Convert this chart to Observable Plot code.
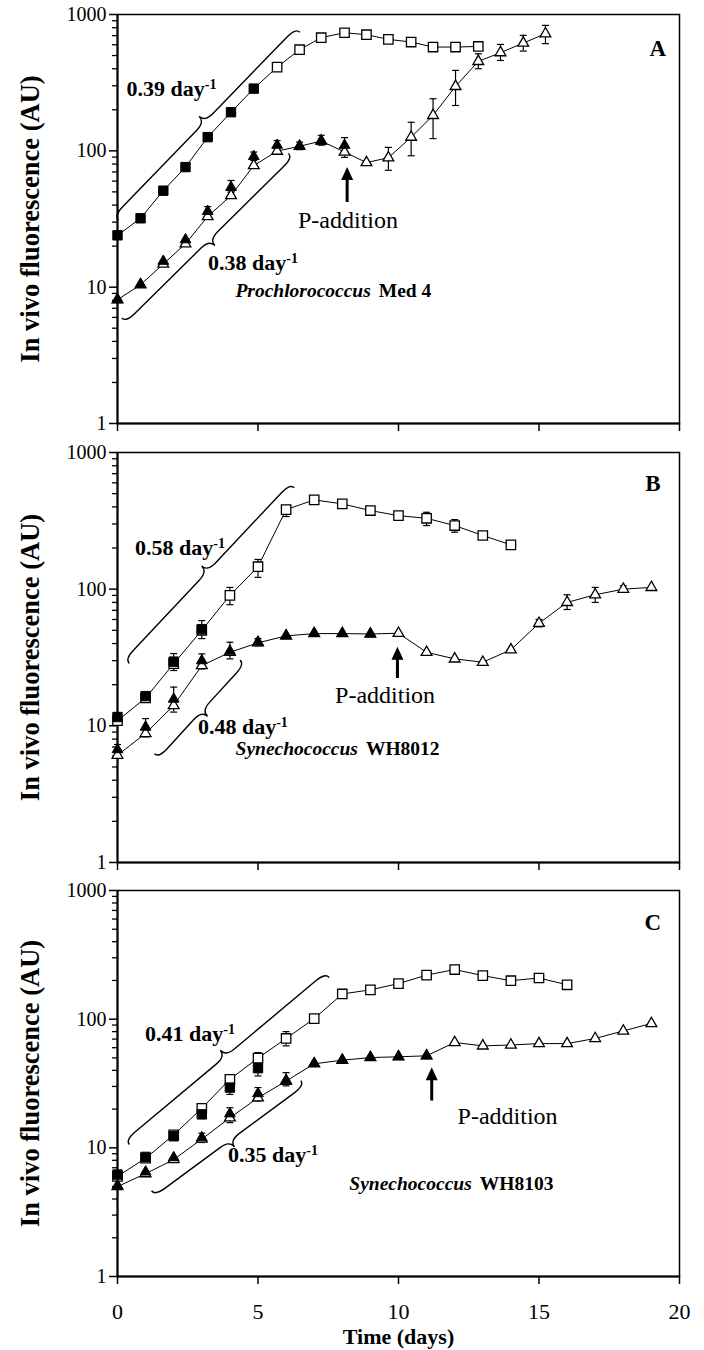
<!DOCTYPE html>
<html><head><meta charset="utf-8">
<script src="https://cdn.jsdelivr.net/npm/d3@7"></script>
<script src="https://cdn.jsdelivr.net/npm/@observablehq/plot@0.6"></script>
<style>
body{margin:0;background:#fff;}
#chart{width:704px;}
#chart svg{display:block;}
</style></head><body><div id="chart"></div>
<script>
// ---------- tick labels ----------
const xTicks = [0, 5, 10, 15, 20];
const yMajor = [1, 10, 100, 1000];
const yMinor = [2,3,4,5,6,7,8,9,20,30,40,50,60,70,80,90,200,300,400,500,600,700,800,900];
const yTitle = "In vivo fluorescence (AU)";
const xTitle = "Time (days)";
const panelLetters = ["A", "B", "C"];
const speciesItalic = ["Prochlorococcus", "Synechococcus", "Synechococcus"];
const speciesStrain = ["Med 4", "WH8012", "WH8103"];

// ---------- Panel A : Prochlorococcus Med 4 ----------
const daysA = [0,0.82,1.63,2.42,3.21,4.04,4.85,5.68,6.48,7.25,8.08,8.86,9.64,10.45,11.23,12.03,12.84,13.63,14.44,15.23];
const sqFilledA = [24,32,51,76,126,192,286];
const sqOpenA = [null,null,null,null,null,null,null,411,552,676,735,711,657,628,577,577,583];
const triFilledA = [8.1,10.5,15.5,22.3,36,54,91,110,108,118,110];
const triOpenA = [8.1,10.4,14.8,20.8,33,47,78,99.5,108,118,98,82,89,126,182,297,453,525,617,723];
const errDayA = [3.21,4.04,4.85,5.68,6.48,7.25,8.08,9.64,10.45,11.23,12.03,12.84,13.63,14.44,15.23];
const errLoA  = [33,49.8,85,104,102,110,89.5,72,92,123,215,400,460,539,611];
const errHiA  = [39,60.6,98,119,116,130,125,106,162,241,389,515,603,703,832];
const rateTextA = ["0.39", "0.38"];
const rateXA = [0.34, 3.24], rateYA = [287, 15.2];
const braceX0A = [0.05, 0.17], braceY0A = [30.9, 5.9], braceX1A = [6.51, 6.1], braceY1A = [735, 95], braceUpA = [true, false];
const arrowA = [8.19, 75.5, 41.8];      // day, tip value, tail value
const pTextA = [8.22, 30.9];
const letterA = [19.25, 564];
const speciesA = [7.7, 9.5];

// ---------- Panel B : Synechococcus WH8012 ----------
const daysB = [0,1,2,3,4,5,6,7,8,9,10,11,12,13,14,15,16,17,18,19];
const sqFilledB = [11.6,16.5,29.5,51];
const sqOpenB = [10.9,16,28.5,50,90,146,382,450,421,376,345,330,292,247,211];
const triFilledB = [6.7,9.8,15.7,30,35.2,41,45.8,47.6,47.6,47.1];
const triOpenB = [6.1,8.8,14.1,27.6,34.5,40.5,45.5,47.3,47.3,47,47.6,34.5,30.9,29.2,36,56.3,80,91,100,103];
const errDayB = [0,0,1,2,2,3,3,4,4,5,5,6,11,12,15,16,17,18];
const errLoB = [10.6,5.9,8.3,25.4,12.6,43.5,26.1,77,30.9,122,38.5,340,292,261,53,71,80,95];
const errHiB = [12.4,7.3,11.3,33.8,19.2,58.9,33.6,103,40.9,165,43.5,409,365,323,60,91,103,106];
const rateTextB = ["0.58", "0.48"];
const rateXB = [0.64, 2.88], rateYB = [200, 9.9];
const braceX0B = [0.44, 1.33], braceY0B = [28.4, 6.2], braceX1B = [6.31, 4.38], braceY1B = [547, 30], braceUpB = [true, false];
const arrowB = [9.98, 37.6, 22.2];
const pTextB = [9.54, 16.9];
const letterB = [19.07, 592];
const speciesB = [7.85, 6.8];

// ---------- Panel C : Synechococcus WH8103 ----------
const daysC = [0,1,2,3,4,5,6,7,8,9,10,11,12,13,14,15,16,17,18,19];
const sqFilledC = [6.2,8.5,12.3,18.2,29.4,41.6];
const sqOpenC = [6.0,8.3,12.6,20.3,34.1,49.8,70.8,101,157,169,189,220,243,218,199,209,185];
const triFilledC = [5.1,6.5,8.4,12,18.4,26.4,33.5,45.4,48.2,50.5,51.2,51.9];
const triOpenC = [5.0,6.3,8.1,11.7,17.1,24.5,33,45,48,50.3,51,51.9,65.9,62,63,64.6,64.6,70.8,81,92.6];
const errDayC = [3,4,4,5,5,5,6,6,7];
const errLoC = [11,26,15.7,36.2,46,23.1,62,30.3,94];
const errHiC = [13,34,20.5,47.4,55,29.4,80,38.4,108];
const rateTextC = ["0.41", "0.35"];
const rateXC = [1.0, 3.95], rateYC = [77, 8.9];
const braceX0C = [0.44, 1.23], braceY0C = [10.5, 4.6], braceX1C = [7.55, 6.54], braceY1C = [209, 33], braceUpC = [true, false];
const arrowC = [11.2, 42, 23.1];
const pTextC = [13.9, 17.7];
const letterC = [19.07, 564];
const speciesC = [11.9, 5.3];

// ---------- build ----------
const FONT = "'Liberation Serif','Times New Roman',Times,serif";
const capSymbol = {draw(ctx) { ctx.moveTo(-3.5, 0); ctx.lineTo(3.5, 0); }};

function pts(days, vals) {
  return days.map((d, i) => ({x: d, y: vals[i]})).filter(d => d.y != null);
}
function lineData(days, open, filled) {
  return days.map((d, i) => ({x: d, y: open[i] != null ? open[i] : filled[i]})).filter(d => d.y != null);
}
function bracePath(x0, y0, x1, y1, up, h, tip) {
  const dx = x1 - x0, dy = y1 - y0, L = Math.hypot(dx, dy);
  const ux = dx / L, uy = dy / L;
  let nx = -uy, ny = ux;
  if ((up && ny > 0) || (!up && ny < 0)) { nx = -nx; ny = -ny; }
  const q = Math.min(12, L / 8), m = L / 2;
  const P = (s, o) => `${(x0 + ux * s + nx * o).toFixed(2)},${(y0 + uy * s + ny * o).toFixed(2)}`;
  return `M${P(0,0)}Q${P(0,h)} ${P(q,h)}L${P(m-q,h)}Q${P(m,h)} ${P(m,tip)}Q${P(m,h)} ${P(m+q,h)}L${P(L-q,h)}Q${P(L,h)} ${P(L,0)}`;
}

function annotations(p) {
  return (index, scales) => {
    const X = scales.x, Y = scales.y;
    const g = d3.create("svg:g").attr("font-family", FONT).attr("fill", "black");
    // braces
    p.bx0.forEach((_, i) => {
      g.append("path")
        .attr("d", bracePath(X(p.bx0[i]), Y(p.by0[i]), X(p.bx1[i]), Y(p.by1[i]), p.bup[i], 6, 14))
        .attr("fill", "none").attr("stroke", "black").attr("stroke-width", 1.4);
    });
    // growth-rate labels
    p.rateText.forEach((t, i) => {
      const tx = g.append("text").attr("x", X(p.rateX[i])).attr("y", Y(p.rateY[i]))
        .attr("dy", "0.35em").attr("text-anchor", "start").attr("font-weight", "bold").attr("font-size", 22);
      tx.append("tspan").text(t + " day");
      tx.append("tspan").attr("dy", "-0.5em").attr("font-size", 14).text("-1");
    });
    // P-addition arrow
    const ax = X(p.arrow[0]), ayTip = Y(p.arrow[1]), ayTail = Y(p.arrow[2]);
    g.append("line").attr("x1", ax).attr("x2", ax).attr("y1", ayTail).attr("y2", ayTip + 10)
      .attr("stroke", "black").attr("stroke-width", 3);
    g.append("path").attr("d", `M${ax},${ayTip}L${ax - 6},${ayTip + 13}L${ax + 6},${ayTip + 13}Z`).attr("fill", "black");
    g.append("text").attr("x", X(p.pText[0])).attr("y", Y(p.pText[1])).attr("dy", "0.35em")
      .attr("text-anchor", "middle").attr("font-size", 24).text("P-addition");
    // panel letter
    g.append("text").attr("x", X(p.letter[0])).attr("y", Y(p.letter[1])).attr("dy", "0.35em")
      .attr("text-anchor", "middle").attr("font-weight", "bold").attr("font-size", 23).text(p.letterText);
    // species label
    const st = g.append("text").attr("x", X(p.species[0])).attr("y", Y(p.species[1])).attr("dy", "0.35em")
      .attr("text-anchor", "middle").attr("font-weight", "bold").attr("font-size", 19.5);
    st.append("tspan").attr("font-style", "italic").text(p.spItalic);
    st.append("tspan").attr("dx", 8).text(p.spStrain);
    return g.node();
  };
}

function makePanel(p) {
  const err = p.errDay.map((d, i) => ({x: d, lo: p.errLo[i], hi: p.errHi[i]}));
  const capData = err.flatMap(e => [{x: e.x, y: e.lo}, {x: e.x, y: e.hi}]);
  const marks = [
    Plot.axisY({ticks: yMinor, tickSize: 5, tickFormat: () => "", label: null, strokeWidth: 1.3}),
    Plot.axisY({ticks: yMajor, tickSize: 8, tickPadding: 3, tickFormat: d => String(d), label: null, strokeWidth: 1.5}),
    Plot.axisX({ticks: xTicks, tickSize: 8, tickPadding: 19, fontSize: 22, tickFormat: p.showX ? (d => String(d)) : (() => ""), label: null, strokeWidth: 1.5}),
    Plot.frame({stroke: "black", strokeWidth: 1.5}),
    Plot.ruleX([0], {stroke: "black", strokeWidth: 2}),
    Plot.ruleY([1], {stroke: "black", strokeWidth: 2}),
    Plot.text([yTitle], {frameAnchor: "left", rotate: -90, dx: -87, textAnchor: "middle", fontWeight: "bold", fontSize: 26.5, text: d => d}),
    Plot.ruleX(err, {x: "x", y1: "lo", y2: "hi", stroke: "black", strokeWidth: 1.2}),
    Plot.dot(capData, {x: "x", y: "y", symbol: capSymbol, r: 2, stroke: "black", strokeWidth: 1.2, fill: "none"}),
    Plot.line(lineData(p.days, p.sqOpen, p.sqFilled), {x: "x", y: "y", stroke: "black", strokeWidth: 1}),
    Plot.line(lineData(p.days, p.triOpen, p.triFilled), {x: "x", y: "y", stroke: "black", strokeWidth: 1}),
    Plot.dot(pts(p.days, p.sqOpen), {x: "x", y: "y", symbol: "square", r: 5.3, fill: "white", stroke: "black", strokeWidth: 1.3}),
    Plot.dot(pts(p.days, p.triOpen), {x: "x", y: "y", symbol: "triangle", r: 4, fill: "white", stroke: "black", strokeWidth: 1.3}),
    Plot.dot(pts(p.days, p.sqFilled), {x: "x", y: "y", symbol: "square", r: 5.3, fill: "black", stroke: "black", strokeWidth: 1}),
    Plot.dot(pts(p.days, p.triFilled), {x: "x", y: "y", symbol: "triangle", r: 4, fill: "black", stroke: "black", strokeWidth: 1}),
    annotations(p)
  ];
  if (p.showX) {
    marks.push(Plot.text([xTitle], {frameAnchor: "bottom", dy: 67, textAnchor: "middle", fontWeight: "bold", fontSize: 22, text: d => d}));
  }
  return Plot.plot({
    width: 704, height: p.height,
    marginLeft: 117, marginRight: 25, marginTop: p.mt, marginBottom: p.mb,
    style: {fontFamily: FONT, fontSize: "20px", background: "white", color: "black", overflow: "visible"},
    x: {domain: [0, 20]},
    y: {type: "log", domain: [1, 1000]},
    marks
  });
}

const panels = [
  {height: 438, mt: 14, mb: 15, showX: false, days: daysA, sqFilled: sqFilledA, sqOpen: sqOpenA, triFilled: triFilledA, triOpen: triOpenA,
   errDay: errDayA, errLo: errLoA, errHi: errHiA, rateText: rateTextA, rateX: rateXA, rateY: rateYA,
   bx0: braceX0A, by0: braceY0A, bx1: braceX1A, by1: braceY1A, bup: braceUpA, arrow: arrowA, pText: pTextA,
   letter: letterA, letterText: panelLetters[0], species: speciesA, spItalic: speciesItalic[0], spStrain: speciesStrain[0]},
  {height: 438, mt: 14, mb: 14, showX: false, days: daysB, sqFilled: sqFilledB, sqOpen: sqOpenB, triFilled: triFilledB, triOpen: triOpenB,
   errDay: errDayB, errLo: errLoB, errHi: errHiB, rateText: rateTextB, rateX: rateXB, rateY: rateYB,
   bx0: braceX0B, by0: braceY0B, bx1: braceX1B, by1: braceY1B, bup: braceUpB, arrow: arrowB, pText: pTextB,
   letter: letterB, letterText: panelLetters[1], species: speciesB, spItalic: speciesItalic[1], spStrain: speciesStrain[1]},
  {height: 474, mt: 14, mb: 74, showX: true, days: daysC, sqFilled: sqFilledC, sqOpen: sqOpenC, triFilled: triFilledC, triOpen: triOpenC,
   errDay: errDayC, errLo: errLoC, errHi: errHiC, rateText: rateTextC, rateX: rateXC, rateY: rateYC,
   bx0: braceX0C, by0: braceY0C, bx1: braceX1C, by1: braceY1C, bup: braceUpC, arrow: arrowC, pText: pTextC,
   letter: letterC, letterText: panelLetters[2], species: speciesC, spItalic: speciesItalic[2], spStrain: speciesStrain[2]}
];

const root = document.getElementById("chart");
panels.forEach(p => root.appendChild(makePanel(p)));
</script>
</body></html>
